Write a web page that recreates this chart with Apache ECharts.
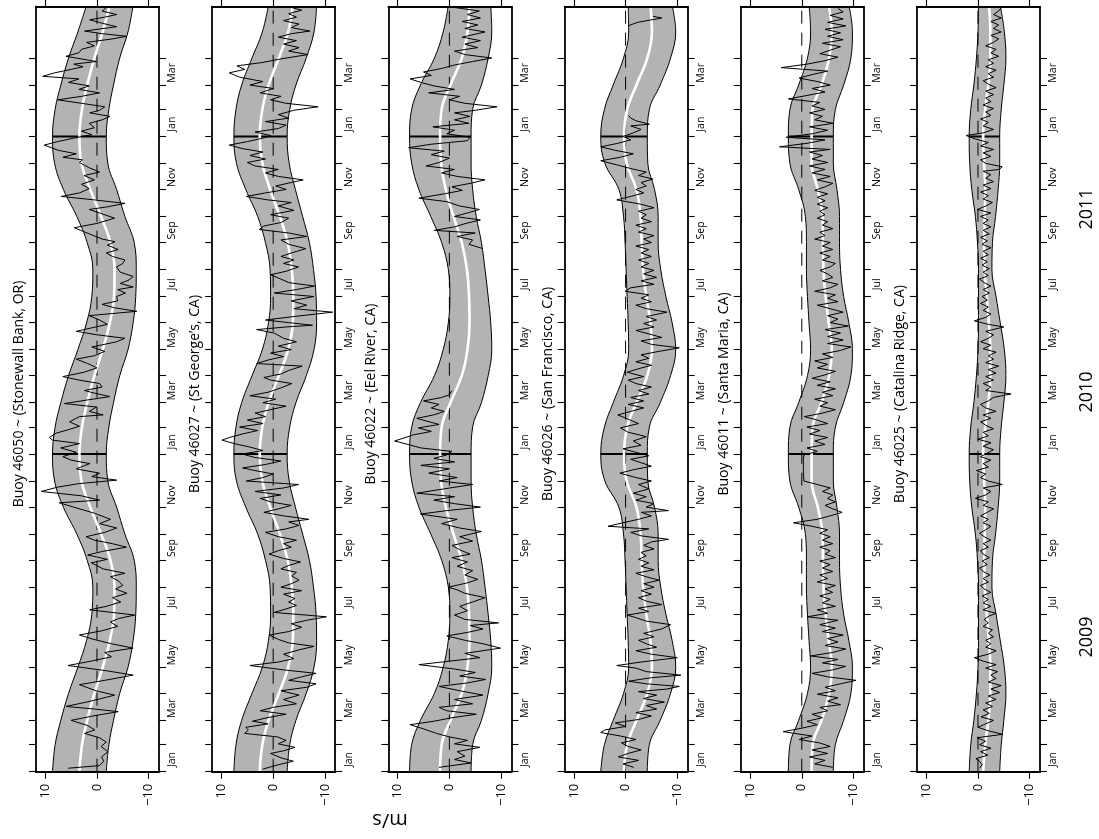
<!DOCTYPE html>
<html>
<head>
<meta charset="utf-8">
<script src="https://cdn.jsdelivr.net/npm/echarts@6.0.0/dist/echarts.min.js"></script>
<style>
html,body{margin:0;padding:0;background:#fff;}
#chart{width:1099px;height:839px;}
</style>
</head>
<body>
<div id="chart"></div>
<script>
// ---------------- text ----------------
const panelTitles = [
  "Buoy 46050 ~ (Stonewall Bank, OR)",
  "Buoy 46027 ~ (St George\u2019s, CA)",
  "Buoy 46022 ~ (Eel River, CA)",
  "Buoy 46026 ~ (San Francisco, CA)",
  "Buoy 46011 ~ (Santa Maria, CA)",
  "Buoy 46025 ~ (Catalina Ridge, CA)"
];
const monthNames = ["Jan","Feb","Mar","Apr","May","Jun","Jul","Aug","Sep","Oct","Nov","Dec"];
const labelledMonths = [0, 2, 4, 6, 8, 10];
const yearLabels = ["2009", "2010", "2011"];
const bandYears = [2009, 2010, 2011];
const valueTicks = [-10, 0, 10];
const unitLabel = "m/s";

// ------------- seasonal band (values on the 1st of each month Jan..Dec) -------------
const hi46050   = [8.6, 8.1, 7.0, 5.5, 3.7, 2.0, 1.0, 0.8, 1.9, 3.9, 6.5, 8.2];
const lo46050   = [-1.8, -2.3, -3.2, -4.4, -6.0, -7.0, -7.5, -7.6, -7.2, -5.4, -3.8, -2.1];
const mean46050 = [3.4, 2.9, 1.9, 0.5, -1.1, -2.5, -3.3, -3.4, -2.6, -0.8, 1.3, 3.0];

const hi46027   = [7.6, 7.2, 6.1, 4.1, 2.1, 0.9, 0.5, 0.6, 1.5, 3.0, 5.3, 7.1];
const lo46027   = [-2.7, -3.2, -4.4, -6.4, -7.9, -8.4, -8.3, -7.8, -7.0, -5.7, -4.3, -3.1];
const mean46027 = [2.6, 2.1, 0.9, -1.1, -2.9, -3.8, -3.9, -3.6, -2.8, -1.3, 0.6, 2.1];

const hi46022   = [7.7, 7.3, 5.6, 2.9, 1.2, 0.2, -0.1, 0.2, 1.5, 3.6, 5.9, 7.3];
const lo46022   = [-4.2, -4.5, -6.2, -7.5, -8.2, -8.0, -7.5, -6.9, -6.2, -5.2, -4.5, -4.2];
const mean46022 = [1.8, 1.5, -0.2, -2.4, -3.5, -3.9, -3.8, -3.4, -2.4, -0.8, 0.7, 1.6];

const hi46026   = [4.8, 4.1, 2.4, 0.4, -0.6, -0.5, -0.3, -0.1, 0.1, 0.4, 1.3, 4.0];
const lo46026   = [-4.2, -4.6, -6.7, -8.7, -9.7, -9.0, -7.8, -6.8, -6.3, -6.3, -5.6, -4.3];
const mean46026 = [0.3, -0.3, -2.1, -4.2, -5.1, -4.8, -4.0, -3.4, -3.1, -2.9, -2.1, -0.2];

const hi46011   = [2.6, 2.3, 0.6, -1.1, -1.7, -1.4, -1.1, -0.9, -0.9, -0.7, 0.6, 2.3];
const lo46011   = [-6.1, -6.5, -8.1, -9.5, -9.8, -9.1, -8.1, -7.5, -7.3, -7.3, -6.8, -6.1];
const mean46011 = [-1.9, -2.1, -3.8, -5.3, -5.8, -5.2, -4.6, -4.2, -4.1, -4.0, -3.1, -1.9];

const hi46025   = [1.7, 1.4, 0.8, 0.3, 0.0, -0.1, -0.1, -0.1, 0.1, 0.5, 1.2, 1.6];
const lo46025   = [-4.2, -4.5, -5.0, -5.4, -5.1, -4.3, -3.5, -2.7, -2.8, -3.4, -3.9, -4.2];
const mean46025 = [-1.0, -1.4, -2.0, -2.4, -2.4, -2.1, -1.7, -1.3, -1.2, -1.3, -1.4, -1.2];

// ------------- observed series: [day since 2009-01-01, m/s] -------------
const obs46050 = [[4,5.6],[7,-0.5],[12,-1.3],[17,-0.9],[23,-2.1],[29,-0.8],[34,-1.8],[39,-0.5],[44,2.4],[48,0.4],[53,1.8],[59,5.0],[64,0.8],[69,-4.1],[72,0.5],[75,6.0],[80,2.0],[84,-0.8],[88,-3.4],[93,0.2],[100,3.4],[105,-1.5],[111,-7.0],[116,-1.8],[122,5.6],[127,1.2],[132,-2.8],[137,-1.5],[142,-7.0],[147,-2.8],[152,0.6],[157,3.4],[162,-1.0],[167,-4.0],[172,-2.6],[176,-4.2],[180,-7.3],[186,1.4],[190,-1.8],[195,-4.6],[200,-3.0],[205,-5.8],[210,-3.6],[214,-5.0],[219,-4.2],[224,-2.6],[228,-5.4],[233,-1.2],[240,1.1],[244,-2.0],[249,1.8],[253,-1.0],[258,-5.7],[262,-3.0],[266,0.5],[270,2.1],[275,-1.5],[280,-3.8],[285,-0.5],[290,-2.6],[297,0.5],[304,4.5],[309,7.3],[312,-0.5],[317,3.0],[322,10.8],[327,7.6],[331,3.5],[335,-3.8],[339,1.0],[343,-0.5],[348,4.0],[354,1.4],[358,5.0],[362,6.6],[367,4.0],[372,7.0],[377,3.4],[381,8.6],[384,9.2],[389,7.9],[393,5.5],[397,3.4],[402,5.3],[408,3.4],[410,-1.2],[414,1.5],[419,0.1],[423,6.3],[427,2.0],[431,-2.5],[435,0.5],[438,2.4],[442,-1.0],[446,-0.5],[450,3.5],[454,6.6],[459,2.5],[464,0.0],[469,1.8],[474,4.0],[478,0.5],[483,-1.5],[488,1.0],[494,-3.8],[498,-5.4],[502,0.0],[506,4.0],[510,1.0],[514,-2.0],[519,-0.5],[524,1.5],[529,-7.7],[533,-3.4],[537,-1.0],[541,-4.0],[546,-3.8],[550,-5.5],[554,-4.0],[557,-7.0],[561,-4.5],[565,-6.2],[569,-7.0],[574,-4.5],[580,-3.8],[584,-5.0],[588,-5.4],[592,-3.0],[596,-1.8],[600,-4.1],[605,-2.0],[609,-3.5],[612,-1.0],[618,1.5],[625,4.4],[630,0.0],[636,-3.4],[641,-1.0],[646,1.5],[649,-2.0],[653,-5.4],[657,0.5],[661,6.9],[665,3.4],[670,1.5],[675,3.0],[680,0.5],[685,2.5],[689,-0.5],[694,1.5],[700,3.4],[703,2.8],[706,6.6],[710,4.0],[714,7.5],[720,10.2],[724,7.6],[728,4.5],[732,1.0],[736,3.0],[740,0.5],[745,1.5],[749,-1.0],[753,-2.5],[757,1.4],[760,-0.5],[764,-1.5],[768,3.0],[772,7.6],[776,3.0],[780,-0.5],[784,3.5],[788,1.5],[792,5.5],[796,3.5],[799,10.5],[803,8.2],[807,5.0],[810,2.7],[813,4.5],[816,0.1],[822,6.0],[826,3.5],[830,3.0],[834,0.5],[838,2.0],[842,-3.0],[845,-5.7],[848,-1.0],[851,2.4],[856,-3.8],[860,-1.0],[864,1.4],[867,-1.5],[870,-3.8],[874,-1.0],[878,-1.8]];

const obs46027 = [[3,2.0],[8,-1.0],[12,-3.9],[16,-1.5],[21,0.5],[24,-2.0],[28,-4.2],[32,-1.0],[36,-2.5],[40,-0.8],[44,5.5],[48,4.8],[51,5.3],[55,1.0],[58,4.0],[62,1.2],[66,-2.5],[70,2.5],[74,0.0],[78,-4.5],[83,-2.0],[88,-5.0],[93,-1.5],[97,-6.5],[101,-8.3],[105,-3.0],[109,-5.5],[113,-8.3],[117,-2.0],[122,4.5],[126,-1.0],[130,-4.0],[135,-2.0],[140,-5.0],[144,-7.9],[148,-3.0],[152,-1.0],[157,0.8],[161,-3.0],[166,-5.5],[170,-3.5],[174,-6.5],[178,-10.3],[183,-0.2],[187,-2.5],[191,-4.5],[195,-3.0],[199,-4.2],[204,-2.0],[208,-5.5],[212,-1.5],[216,-3.5],[220,-5.0],[225,-3.6],[229,-4.5],[233,-1.5],[237,-3.0],[241,-5.3],[245,-2.0],[250,0.8],[254,-1.0],[258,-3.5],[262,-2.0],[266,-4.5],[270,-1.0],[275,1.5],[279,-2.5],[283,-5.0],[287,-3.0],[290,-6.9],[294,-2.0],[298,1.8],[302,-1.0],[306,-3.5],[310,0.5],[314,2.5],[318,-1.5],[322,3.5],[326,-2.0],[330,-4.9],[334,5.2],[338,2.0],[342,0.0],[346,3.5],[349,5.9],[353,1.5],[357,-1.5],[361,3.5],[365,6.0],[369,2.0],[373,4.5],[377,7.5],[381,9.9],[384,8.5],[388,6.0],[392,3.0],[396,6.5],[400,2.0],[404,5.0],[408,1.5],[412,3.5],[416,0.5],[420,-2.5],[424,2.0],[428,-0.5],[432,4.5],[436,1.0],[441,-1.5],[446,-3.6],[450,0.5],[453,1.8],[457,-1.5],[461,-3.0],[466,-5.6],[469,3.2],[473,1.0],[477,-2.0],[481,0.5],[485,-3.5],[489,-1.0],[494,-4.5],[498,-2.0],[504,-0.2],[508,3.2],[511,-2.5],[513,-7.6],[516,-3.0],[519,1.5],[523,-4.0],[528,-11.5],[532,-4.0],[536,-6.5],[541,-3.5],[546,-7.9],[550,-0.2],[554,-4.5],[558,-8.0],[562,-3.0],[566,-1.5],[571,0.5],[575,-2.5],[580,-4.9],[584,-2.0],[588,-4.0],[592,-1.5],[596,-3.5],[601,-6.3],[606,-3.0],[611,-1.5],[615,-6.5],[619,-3.0],[623,2.7],[627,1.8],[631,-1.5],[636,-3.0],[640,0.5],[645,-4.0],[650,-1.0],[654,-3.5],[657,1.0],[661,5.2],[665,1.5],[669,-2.5],[673,-0.5],[677,-3.5],[680,-5.8],[684,-1.0],[688,1.5],[692,-1.0],[696,3.5],[700,5.0],[704,1.5],[708,4.5],[712,2.0],[716,6.0],[720,8.5],[724,5.0],[728,2.0],[731,0.5],[735,3.5],[739,-1.0],[743,-2.5],[747,1.5],[751,-3.0],[755,-1.0],[760,-4.0],[764,-8.7],[768,-2.5],[772,0.5],[776,-1.5],[780,2.5],[785,0.0],[789,4.5],[793,2.0],[798,6.5],[803,8.5],[807,5.5],[811,7.0],[815,2.0],[819,-1.5],[824,-6.7],[828,-3.0],[832,-5.0],[836,-2.0],[840,-4.5],[844,-1.0],[848,-3.5],[851,-7.1],[855,-3.5],[859,-5.0],[863,-2.0],[867,-4.5],[871,-3.0],[875,-5.5],[879,-3.0]];

const obs46022a = [[5,2.0],[10,-4.2],[14,-1.0],[18,-3.0],[23,-1.5],[28,-5.9],[32,-1.0],[36,-3.5],[40,0.0],[44,2.5],[49,4.9],[54,7.6],[58,3.0],[62,-0.5],[66,-5.2],[70,0.5],[74,2.0],[78,-4.5],[83,-1.0],[88,-6.5],[93,-2.0],[98,2.0],[102,-3.5],[106,-7.0],[110,-2.0],[114,-5.0],[118,-1.0],[123,5.9],[127,0.0],[131,-5.9],[136,-3.0],[142,-9.9],[147,-6.5],[151,-3.0],[156,0.5],[160,-3.5],[164,-6.5],[168,-4.0],[171,-9.5],[175,-3.0],[180,-1.0],[185,-3.5],[190,-2.0],[195,-4.5],[200,-6.9],[205,-3.0],[209,-1.5],[212,0.2],[217,-3.5],[221,-5.5],[226,-3.0],[231,-4.5],[236,-1.5],[241,-3.5],[246,-0.5],[250,-4.0],[255,-2.0],[260,-0.5],[265,-4.5],[270,-2.0],[276,-6.2],[280,-2.0],[285,1.5],[290,-1.5],[296,5.6],[300,0.5],[304,-6.0],[308,-1.0],[312,3.0],[316,-1.0],[320,6.3],[325,1.0],[330,-4.5],[334,2.0],[338,-1.5],[343,4.0],[348,0.0],[352,5.5],[356,-1.0],[360,3.0],[364,0.5],[368,-0.5],[372,5.5],[376,8.0],[380,10.6],[383,9.0],[387,7.0],[391,3.5],[395,6.0],[399,2.0],[403,4.5],[406,6.3],[410,3.0],[414,1.0],[418,3.5],[422,2.0],[426,5.0],[430,1.5],[433,0.0],[438,-0.5]];
const obs46022b = [[601,-6.5],[606,-3.8],[611,-4.5],[615,-1.5],[619,-5.0],[622,2.9],[626,-1.0],[630,-3.2],[634,-6.0],[638,-1.0],[642,-3.5],[646,-5.8],[650,-2.0],[655,0.5],[659,5.9],[664,1.0],[668,-2.5],[672,-0.5],[676,-4.0],[680,-6.9],[684,-1.5],[688,1.5],[692,-1.0],[696,4.5],[700,2.0],[705,0.0],[709,3.5],[713,1.0],[717,7.9],[721,3.5],[725,-3.5],[729,-4.0],[733,0.5],[737,-1.0],[741,3.2],[745,-3.8],[749,-1.0],[753,-4.0],[757,-1.0],[760,-5.0],[764,-9.2],[768,-3.0],[772,0.0],[776,-2.0],[780,4.0],[784,-1.0],[788,3.0],[792,5.5],[796,7.6],[800,3.5],[804,5.0],[808,1.5],[812,-1.0],[816,-4.5],[820,-8.2],[824,-3.0],[828,-1.0],[832,-5.5],[836,-3.0],[840,-6.0],[844,-2.5],[850,-6.9],[854,-3.0],[858,-5.5],[862,-2.5],[866,-6.0],[870,-3.5],[874,-5.8],[879,0.0]];

const obs46026a = [[5,-1.6],[9,0.5],[13,-2.5],[17,1.4],[21,-0.5],[25,-3.0],[29,-0.5],[33,0.8],[37,-2.0],[41,1.0],[45,4.8],[48,4.0],[52,0.0],[56,2.0],[60,-2.5],[64,-5.0],[68,-2.0],[72,-6.0],[76,-4.0],[80,-7.5],[84,-3.5],[88,-6.0],[92,-2.5],[95,-8.0],[98,-10.4],[101,-4.0],[104,-0.6],[108,-5.0],[111,-10.7],[115,-4.0],[119,-2.0],[122,1.7],[126,-3.0],[131,-10.0],[135,-5.0],[139,-2.0],[143,-6.0],[147,-4.0],[151,-2.5],[155,-5.5],[159,-3.5],[164,-7.0],[169,-8.7],[173,-4.0],[177,-2.0],[180,-0.3],[184,-4.5],[188,-2.5],[192,-7.0],[196,-4.0],[200,-2.5],[204,-5.0],[208,-3.0],[212,-5.5],[216,-3.5],[220,-6.5],[224,-4.0],[228,-2.0],[232,-5.5],[236,-3.0],[240,-4.5],[244,-2.5],[248,-4.0],[252,-3.0],[256,-5.5],[260,-3.5],[264,-5.0],[267,-8.3],[271,-3.0],[275,-1.0],[279,-4.5],[282,3.4],[286,0.5],[290,-2.5],[294,-5.0],[298,-3.0],[300,-8.3],[304,-4.0],[308,-5.5],[312,-2.0],[316,-4.0],[320,-1.5],[325,-4.5],[330,-2.5],[334,-5.0],[338,-2.0],[343,1.1],[347,-1.5],[351,-5.0],[355,-3.0],[359,-1.0],[363,-4.5],[367,-2.0],[371,0.5],[375,-3.0],[380,-1.5],[385,-4.0],[390,-0.5],[395,1.0],[400,-2.5],[405,-0.5],[410,1.5],[414,-1.0],[418,-3.5],[422,-0.5],[426,-3.5],[430,-1.0],[434,-4.5],[438,-2.5],[442,-5.0],[446,-2.0],[450,-0.5],[454,-3.5],[459,-0.3],[463,-2.5],[467,-5.0],[471,-2.0],[475,-4.5],[479,-3.0],[483,-6.5],[487,-10.4],[491,-5.0],[495,-3.0],[499,-7.0],[503,-4.5],[507,-2.0],[511,-5.5],[515,-3.5],[519,-6.0],[523,-4.0],[528,-8.0],[532,-4.0],[536,-2.0],[540,-5.0],[544,-3.0],[548,-4.5],[552,0.1],[556,-1.0],[560,-5.5],[564,-3.0],[568,-6.0],[572,-3.5],[576,-5.5],[580,-3.0],[584,-4.5],[588,-2.5],[592,-5.0],[596,-3.0],[600,-4.5],[604,-2.0],[608,-5.0],[612,-3.5],[616,-5.5],[620,-2.5],[624,-4.0],[628,-2.0],[632,-5.0],[636,-3.0],[640,-4.0],[644,-2.5],[648,-5.5],[652,-3.0],[657,1.7],[661,-1.0],[665,-3.5],[669,-2.0],[673,-4.0],[677,-3.0],[681,-5.3],[685,-2.5],[689,-4.0],[693,-1.0],[697,1.5],[702,4.8],[706,1.0],[710,-1.5],[714,2.0],[718,4.8],[722,1.5],[726,-1.0],[730,0.5],[734,-1.5],[738,-3.0],[742,-1.0],[744,-4.6],[748,-2.0],[751,-1.0],[754,-0.6]];
const obs46026b = [[857,-0.5],[861,-2.3],[866,-7.0],[868,-5.3]];

const obs46011 = [[5,-6.0],[9,-2.5],[13,-4.5],[17,-1.5],[21,-5.0],[25,-2.0],[29,-5.5],[33,-3.5],[37,0.5],[41,-2.0],[46,3.6],[50,0.0],[54,-3.0],[58,-1.0],[62,-4.0],[66,-2.0],[70,-5.0],[74,-3.5],[77,-7.5],[81,-5.0],[85,-7.0],[89,-3.0],[93,-6.5],[97,-4.5],[101,-7.5],[105,-10.5],[109,-5.0],[113,-2.0],[117,-6.0],[121,-8.5],[125,-4.0],[129,-7.0],[133,-1.7],[137,-6.0],[141,-8.5],[145,-4.5],[149,-7.0],[153,-5.0],[157,-8.0],[161,-4.0],[165,-6.5],[169,-3.5],[174,-7.0],[178,-1.1],[182,-5.0],[186,-3.0],[190,-6.5],[194,-4.0],[198,-5.5],[202,-3.5],[206,-6.0],[210,-4.5],[214,-6.5],[218,-3.0],[222,-5.0],[226,-3.5],[230,-6.0],[234,-4.0],[238,-5.5],[242,-3.5],[246,-6.5],[250,-4.5],[254,-5.5],[258,-3.5],[262,-6.0],[266,-4.0],[270,-5.5],[274,-3.5],[278,-5.0],[282,-2.0],[286,1.6],[290,-3.0],[294,-5.5],[298,-7.8],[302,-6.0],[306,-4.5],[310,-6.5],[314,-5.0],[318,-6.0],[322,-4.0],[326,-5.5],[330,-3.0],[334,-0.4],[345,-0.3],[358,-0.3],[364,-0.4],[368,-3.0],[372,-1.0],[376,-4.5],[380,-2.5],[384,-5.0],[388,-1.5],[392,-3.5],[396,-1.0],[400,-5.0],[404,-3.0],[408,-0.5],[412,-4.0],[416,-6.5],[420,-3.5],[424,-5.0],[428,-2.5],[432,-6.0],[436,-4.0],[440,-6.5],[444,-3.0],[448,-5.5],[452,-2.0],[456,-4.5],[460,-6.5],[464,-3.0],[468,-5.0],[472,-2.5],[476,-6.0],[480,-4.0],[484,-7.5],[488,-9.5],[492,-5.0],[496,-8.0],[500,-5.0],[504,-7.5],[508,-4.5],[512,-9.0],[516,-5.5],[520,-7.0],[524,-5.0],[528,-8.0],[532,-5.5],[536,-3.0],[540,-7.0],[544,-5.0],[548,-6.5],[552,-2.5],[556,-5.5],[560,-7.0],[564,-4.0],[568,-6.0],[572,-5.0],[576,-3.5],[580,-5.5],[584,-6.5],[588,-4.0],[592,-5.5],[596,-3.5],[600,-6.0],[604,-4.0],[608,-5.5],[612,-2.5],[616,-4.5],[620,-3.5],[624,-6.0],[628,-4.0],[632,-5.0],[636,-3.0],[640,-4.5],[644,-3.5],[648,-5.0],[652,-3.0],[656,-4.5],[660,-3.0],[664,-5.0],[668,-2.5],[672,-4.5],[676,-6.0],[680,-3.0],[684,-5.5],[688,-2.0],[692,-4.5],[696,-1.5],[700,-5.0],[704,-2.0],[708,-4.0],[712,-1.5],[715,-5.5],[718,4.3],[722,-1.0],[726,-4.5],[729,3.0],[733,-2.0],[737,-5.0],[741,-1.5],[745,-6.1],[749,-2.5],[753,-4.0],[757,-1.5],[761,-4.5],[765,-2.0],[769,-3.5],[773,2.6],[777,-1.0],[781,-4.5],[785,-2.0],[789,-5.5],[793,-3.0],[797,0.5],[801,-2.0],[805,-5.0],[809,4.0],[813,-1.0],[817,-4.5],[821,-7.0],[825,-3.5],[829,-5.5],[833,-7.5],[837,-4.0],[841,-8.0],[845,-5.0],[849,-7.5],[853,-4.5],[857,-8.5],[861,-5.0],[865,-8.0],[869,-5.5],[873,-8.0],[877,-7.0]];

const obs46025 = [[4,-0.3],[8,-0.8],[12,-0.3],[15,0.4],[19,-1.9],[23,-0.5],[27,-2.5],[31,-0.3],[35,-1.5],[39,0.2],[43,-4.8],[47,-2.0],[51,0.0],[55,-1.5],[59,-3.0],[63,-0.6],[67,-2.2],[71,-1.0],[75,-2.8],[79,-1.5],[83,-3.5],[87,-2.0],[91,-4.2],[95,-2.5],[99,-4.5],[103,-2.0],[107,-3.5],[111,-2.5],[115,-3.8],[119,-1.5],[123,-3.5],[127,-1.0],[131,0.7],[135,-2.0],[139,-3.5],[143,-1.5],[147,-2.5],[151,-1.5],[155,-3.0],[159,-2.0],[163,-2.8],[167,-1.0],[171,-2.0],[175,-1.2],[179,-2.2],[182,-3.5],[186,-1.0],[190,-2.5],[194,-1.0],[198,-2.0],[202,-0.8],[206,-2.5],[210,-1.2],[214,-0.5],[218,-2.0],[222,-1.0],[226,-2.3],[230,-1.0],[234,-0.3],[238,-1.8],[242,-0.8],[246,-2.2],[250,-1.0],[254,-0.5],[258,-2.0],[262,-1.0],[266,-2.5],[270,-1.2],[274,-0.3],[278,-1.5],[282,-2.5],[286,-1.0],[290,-2.0],[294,-0.5],[298,-1.8],[302,-3.0],[306,-1.0],[310,-2.0],[314,0.5],[318,-1.5],[322,-2.5],[326,-1.0],[330,-4.7],[334,-2.0],[338,-0.5],[342,-1.5],[346,0.3],[350,-2.0],[354,-1.0],[358,-2.5],[362,-0.5],[366,-1.8],[370,-3.0],[374,-1.0],[378,-2.5],[382,0.0],[386,-2.0],[390,-1.0],[394,-3.0],[398,-1.5],[402,-0.5],[406,-2.5],[410,-1.0],[414,-3.5],[418,-1.5],[422,-0.5],[426,-2.0],[430,-3.0],[434,-6.4],[438,-1.5],[442,-2.5],[446,-1.0],[450,-3.0],[454,-1.5],[458,-3.5],[462,-2.0],[466,-4.0],[470,-1.5],[474,-3.0],[478,-2.0],[482,-3.5],[486,-1.0],[490,-2.5],[494,-0.5],[498,-2.0],[502,-3.0],[506,-1.5],[511,-5.0],[514,-2.0],[518,0.7],[522,-1.5],[526,-2.5],[530,-1.0],[534,-2.0],[538,-0.5],[542,-1.8],[546,-0.8],[550,-2.2],[554,-1.0],[558,-2.5],[562,-1.2],[566,-0.3],[570,-2.0],[574,-1.0],[578,-2.2],[582,-0.8],[586,-1.8],[590,-0.5],[594,-2.0],[598,-1.0],[602,-2.5],[606,-0.8],[610,-1.8],[614,-0.5],[618,-2.2],[622,-1.0],[626,-2.5],[630,-1.0],[634,-2.0],[638,-0.5],[642,-2.5],[646,0.1],[650,-1.5],[654,-2.8],[658,-1.0],[662,-2.0],[666,-0.5],[670,-2.5],[674,-1.0],[678,-3.0],[682,-1.5],[686,-2.5],[690,-1.0],[692,-4.1],[695,-4.7],[699,-1.5],[703,-0.5],[707,-2.5],[711,-1.0],[715,-3.0],[719,-0.5],[723,-2.0],[727,0.5],[731,2.3],[734,-1.0],[738,-3.0],[742,-1.0],[746,-2.0],[750,-0.5],[754,-2.5],[758,-1.5],[762,-3.0],[766,-1.0],[770,-2.5],[774,-1.5],[778,-3.0],[782,-1.5],[786,-3.5],[790,-2.0],[794,-1.0],[798,-3.0],[802,-2.0],[806,-3.5],[810,-1.5],[814,-3.0],[818,-2.0],[822,-4.0],[826,-2.5],[830,-3.5],[834,-1.5],[838,-3.0],[842,-4.0],[846,-2.5],[850,-4.5],[854,-3.0],[858,-4.0],[862,-2.5],[866,-4.5],[870,-3.0],[874,-4.0],[878,-4.5]];

// ---------------- build ----------------
const FONT = "Open Sans";
const DAY = 86400000;
const T0 = new Date(2009, 0, 1).getTime();
const dayOf = (y, m, d) => Math.round((new Date(y, m, d).getTime() - T0) / DAY);
const LAST_DAY = 879;                     // top edge of the plot (late May 2011)
const CAT_COUNT = dayOf(2011, 5, 1) + 1;  // categories run to 1 Jun 2011
const dayCategories = [];
for (let d = 0; d < CAT_COUNT; d++) dayCategories.push(String(d));

const panels = [
  { hi: hi46050, lo: lo46050, mean: mean46050, obs: [obs46050] },
  { hi: hi46027, lo: lo46027, mean: mean46027, obs: [obs46027] },
  { hi: hi46022, lo: lo46022, mean: mean46022, obs: [obs46022a, obs46022b] },
  { hi: hi46026, lo: lo46026, mean: mean46026, obs: [obs46026a, obs46026b] },
  { hi: hi46011, lo: lo46011, mean: mean46011, obs: [obs46011] },
  { hi: hi46025, lo: lo46025, mean: mean46025, obs: [obs46025] }
];

function knots(arr) {
  const out = [];
  bandYears.forEach(y => arr.forEach((v, m) => {
    const d = dayOf(y, m, 1);
    if (d < CAT_COUNT) out.push([v, d]);
  }));
  return out;
}

const tickDays = new Set();
bandYears.forEach(y => { for (let m = 0; m < 12; m++) { const d = dayOf(y, m, 1); if (d <= dayOf(2011, 3, 1)) tickDays.add(d); } });
const labelDays = new Set();
bandYears.forEach(y => labelledMonths.forEach(m => { const d = dayOf(y, m, 15); if (d <= dayOf(2011, 2, 20)) labelDays.add(d); }));

const GRID_LEFT0 = 36, GRID_STEP = 176.2, GRID_W = 123, GRID_TOP = 6.7, GRID_H = 765;
const grids = [], xAxes = [], yAxes = [], series = [], graphics = [];
const axisLineStyle = { color: "#000", width: 1.8 };
const tickStyle = { color: "#000", width: 1.1 };

panels.forEach((p, i) => {
  const left = GRID_LEFT0 + GRID_STEP * i;
  grids.push({ left: left, top: GRID_TOP, width: GRID_W, height: GRID_H });
  const xBase = { gridIndex: i, type: "value", min: -12, max: 11.8, inverse: true, z: 10,
    splitLine: { show: false },
    axisLine: { show: true, onZero: false, lineStyle: axisLineStyle },
    axisTick: { show: true, customValues: valueTicks, length: 7, lineStyle: tickStyle } };
  xAxes.push(Object.assign({}, xBase, { position: "bottom",
    axisLabel: { show: true, customValues: valueTicks, rotate: 90, margin: 12, fontSize: 13,
      fontFamily: FONT, color: "#000",
      formatter: v => (v < 0 ? "\u2212" + Math.abs(v) : String(v)) } }));
  xAxes.push(Object.assign({}, xBase, { position: "top", axisLabel: { show: false } }));
  const yBase = { gridIndex: i, type: "category", data: dayCategories, boundaryGap: false, z: 10,
    min: 0, max: LAST_DAY,
    splitLine: { show: false },
    axisLine: { show: true, onZero: false, lineStyle: axisLineStyle },
    axisTick: { show: true, interval: (idx) => tickDays.has(idx), length: 7, lineStyle: tickStyle } };
  yAxes.push(Object.assign({}, yBase, { position: "left", axisLabel: { show: false } }));
  yAxes.push(Object.assign({}, yBase, { position: "right",
    axisLabel: { show: true, interval: (idx) => labelDays.has(idx), rotate: 90, margin: 8, fontSize: 10.5,
      fontFamily: FONT, color: "#000",
      formatter: v => monthNames[new Date(T0 + Number(v) * DAY + 12 * 3600000).getMonth()] } }));

  const ax = { xAxisIndex: 2 * i, yAxisIndex: 2 * i };
  const base = Object.assign({ type: "line", symbol: "none", silent: true, animation: false }, ax);
  // gray band: fill from upper edge towards the right edge, then white from lower edge
  series.push(Object.assign({}, base, { data: knots(p.hi), smooth: 0.4,
    lineStyle: { width: 0, opacity: 0 }, areaStyle: { color: "#b3b3b3", opacity: 1, origin: "start" }, z: 1 }));
  series.push(Object.assign({}, base, { data: knots(p.lo), smooth: 0.4,
    lineStyle: { width: 0, opacity: 0 }, areaStyle: { color: "#ffffff", opacity: 1, origin: "start" }, z: 1 }));
  // band outlines
  series.push(Object.assign({}, base, { data: knots(p.hi), smooth: 0.4, lineStyle: { color: "#000", width: 1 }, z: 2 }));
  series.push(Object.assign({}, base, { data: knots(p.lo), smooth: 0.4, lineStyle: { color: "#000", width: 1 }, z: 2 }));
  // year boundary closing edges
  [2010, 2011].forEach(y => {
    const d = dayOf(y, 0, 1);
    series.push(Object.assign({}, base, { data: [[p.hi[0], d], [p.lo[0], d]], lineStyle: { color: "#000", width: 2 }, z: 2 }));
  });
  // zero reference
  series.push(Object.assign({}, base, { data: [[0, 0], [0, LAST_DAY]], lineStyle: { color: "#000", width: 1, type: [13, 9] }, z: 3 }));
  // seasonal mean
  series.push(Object.assign({}, base, { data: knots(p.mean), smooth: 0.4, lineStyle: { color: "#fff", width: 2.6 }, z: 4 }));
  // observations
  p.obs.forEach(seg => {
    series.push(Object.assign({}, base, { data: seg.map(d => [d[1], d[0]]), lineStyle: { color: "#000", width: 1 }, z: 5 }));
  });

  graphics.push({ type: "text", x: left - 17, y: 394, rotation: Math.PI / 2,
    style: { text: panelTitles[i], fontSize: 14, fontFamily: FONT, fill: "#000",
      align: "center", verticalAlign: "middle", textAlign: "center", textVerticalAlign: "middle" } });
});

const yearPos = [637, 392, 209];
yearLabels.forEach((s, k) => {
  graphics.push({ type: "text", x: 1087, y: yearPos[k], rotation: Math.PI / 2,
    style: { text: s, fontSize: 18, fontFamily: FONT, fill: "#000",
      align: "center", verticalAlign: "middle", textAlign: "center", textVerticalAlign: "middle" } });
});
graphics.push({ type: "text", x: 390, y: 820, rotation: Math.PI,
  style: { text: unitLabel, fontSize: 20, fontFamily: FONT, fill: "#000",
    align: "center", verticalAlign: "middle", textAlign: "center", textVerticalAlign: "middle" } });

const chart = echarts.init(document.getElementById("chart"), null, { renderer: "canvas" });
chart.setOption({
  animation: false,
  backgroundColor: "#fff",
  grid: grids,
  xAxis: xAxes,
  yAxis: yAxes,
  series: series,
  graphic: graphics
});
</script>
</body>
</html>
